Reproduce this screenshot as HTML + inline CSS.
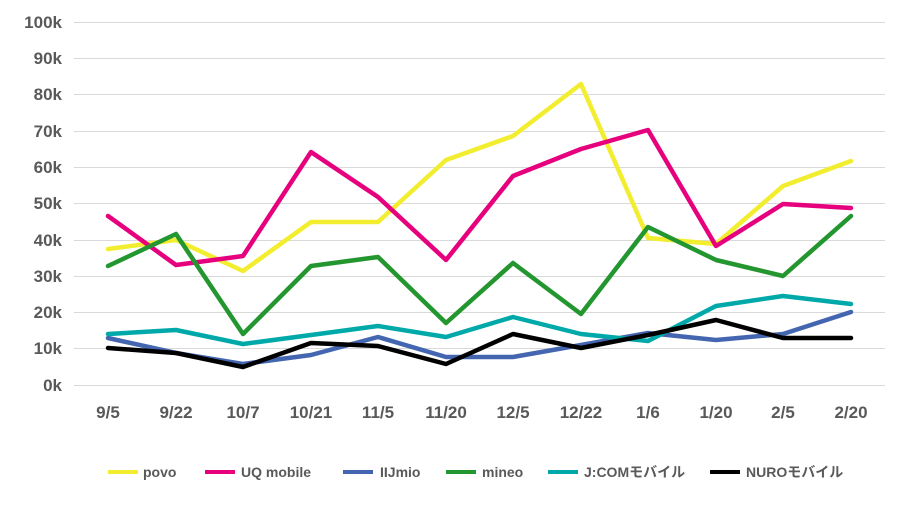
<!DOCTYPE html>
<html><head><meta charset="utf-8"><style>
html,body{margin:0;padding:0;background:#fff;}
svg text{font-family:"Liberation Sans","Noto Sans CJK JP",sans-serif;fill:#595959;}
</style></head><body>
<svg width="906" height="513" viewBox="0 0 906 513" xmlns="http://www.w3.org/2000/svg">
<g stroke="#d9d9d9" stroke-width="1">
<line x1="74" x2="885" y1="22.5" y2="22.5"/><line x1="74" x2="885" y1="58.5" y2="58.5"/>
<line x1="74" x2="885" y1="94.5" y2="94.5"/><line x1="74" x2="885" y1="131.5" y2="131.5"/>
<line x1="74" x2="885" y1="167.5" y2="167.5"/><line x1="74" x2="885" y1="203.5" y2="203.5"/>
<line x1="74" x2="885" y1="240.5" y2="240.5"/><line x1="74" x2="885" y1="276.5" y2="276.5"/>
<line x1="74" x2="885" y1="312.5" y2="312.5"/><line x1="74" x2="885" y1="348.5" y2="348.5"/>
<line x1="74" x2="885" y1="385.5" y2="385.5"/>
</g>
<g font-size="17" font-weight="bold" text-anchor="end">
<text x="62" y="28">100k</text><text x="62" y="64">90k</text><text x="62" y="100">80k</text>
<text x="62" y="137">70k</text><text x="62" y="173">60k</text><text x="62" y="209">50k</text>
<text x="62" y="246">40k</text><text x="62" y="282">30k</text><text x="62" y="318">20k</text>
<text x="62" y="354">10k</text><text x="62" y="391">0k</text>
</g>
<g font-size="17" font-weight="bold" text-anchor="middle">
<text x="108" y="418">9/5</text><text x="176" y="418">9/22</text><text x="243" y="418">10/7</text>
<text x="311" y="418">10/21</text><text x="378" y="418">11/5</text><text x="446" y="418">11/20</text>
<text x="513" y="418">12/5</text><text x="581" y="418">12/22</text><text x="648" y="418">1/6</text>
<text x="716" y="418">1/20</text><text x="783" y="418">2/5</text><text x="851" y="418">2/20</text>
</g>
<g fill="none" stroke-width="4.5" stroke-linejoin="round" stroke-linecap="round">
<polyline stroke="#f2ee2f" points="108,249 176,240 243,271 311,222 378,222 446,160 513,136 581,84 648,238 716,244 783,186 851,161"/>
<polyline stroke="#e6007e" points="108,216 176,265 243,256 311,152 378,197 446,260 513,176 581,149 648,130 716,246 783,204 851,208"/>
<polyline stroke="#4466b0" points="108,338 176,353 243,364 311,355 378,337 446,357 513,357 581,345 648,333 716,340 783,334 851,312"/>
<polyline stroke="#23962f" points="108,266 176,234 243,334 311,266 378,257 446,323 513,263 581,314 648,227 716,260 783,276 851,216"/>
<polyline stroke="#00a9a9" points="108,334 176,330 243,344 311,335 378,326 446,337 513,317 581,334 648,341 716,306 783,296 851,304"/>
<polyline stroke="#000" points="108,348 176,353 243,367 311,343 378,346 446,364 513,334 581,348 648,335 716,320 783,338 851,338"/>
</g>
<g stroke-width="4">
<line x1="108" x2="138" y1="472" y2="472" stroke="#f2ee2f"/>
<line x1="205" x2="235" y1="472" y2="472" stroke="#e6007e"/>
<line x1="343" x2="373" y1="472" y2="472" stroke="#4466b0"/>
<line x1="446" x2="476" y1="472" y2="472" stroke="#23962f"/>
<line x1="548" x2="578" y1="472" y2="472" stroke="#00a9a9"/>
<line x1="710" x2="740" y1="472" y2="472" stroke="#000"/>
</g>
<g font-size="14" font-weight="bold">
<text x="143" y="477">povo</text><text x="241" y="477">UQ mobile</text>
<text x="380" y="477">IIJmio</text><text x="482" y="477">mineo</text>
<text x="584" y="477">J:COMモバイル</text><text x="746" y="477">NUROモバイル</text>
</g>
</svg>
</body></html>
